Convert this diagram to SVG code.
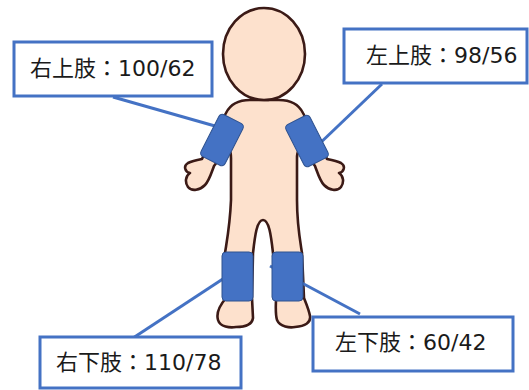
<svg xmlns="http://www.w3.org/2000/svg" width="529" height="390" viewBox="0 0 529 390">
  <style>
    .skin { fill: #FDE1CD; stroke: #3B1A16; stroke-width: 2.6; stroke-linejoin: round; }
    .cuff { fill: #4472C4; stroke: #2F528F; stroke-width: 1; }
    .link { stroke: #4472C4; stroke-width: 3; fill: none; }
    .box { fill: #FFFFFF; stroke: #4472C4; stroke-width: 3; }
    .label { font-family: "DejaVu Sans", "Noto Sans CJK JP", sans-serif; font-size: 22px; fill: #1A1A1A; }
  </style>

  <!-- figure -->
  <g id="figure">
    <path class="skin" d="M 250,100 C 238,100 230,105 226,113 L 206,150 L 202,159 C 197,160 192,161 188,163 C 183,166 185,172 190,173 C 185,176 185,183 188,187 C 192,192 200,190 205,185 C 209,181 211,174 214,166 L 226,150 Q 231,148 231,158 L 231,200 C 230,225 227,240 225,253 L 226,298 C 220,305 216,313 218,320 C 220,327 230,328 236,327 C 245,327 252,325 253,318 L 252,298 L 253,253 C 255,235 257,220 263,220 C 269,220 271,235 273,253 L 276,298 C 276,305 275,313 277,320 C 280,327 290,328 295,327 C 305,326 311,323 310,316 C 309,310 306,303 304,298 L 302,253 C 300,240 297,225 297,200 L 297,158 Q 297,148 303,150 L 315,166 C 318,174 320,181 324,185 C 329,190 337,192 341,187 C 344,183 344,176 339,173 C 344,172 346,166 341,163 C 337,161 332,160 327,159 L 323,150 L 303,113 C 299,105 291,100 279,100 Z"/>
    <ellipse class="skin" cx="264" cy="54" rx="41" ry="46"/>
  </g>

  <!-- connectors -->
  <g id="connectors">
    <line class="link" x1="113" y1="97" x2="222" y2="128"/>
    <line class="link" x1="382" y1="84" x2="315" y2="148"/>
    <line class="link" x1="133" y1="338" x2="235" y2="271"/>
    <line class="link" x1="360" y1="314" x2="270" y2="266"/>
  </g>

  <!-- cuffs -->
  <g id="cuff-right-upper">
    <rect class="cuff" x="-13.5" y="-23.5" width="27" height="47" rx="4" transform="translate(222 140) rotate(27)"/>
  </g>
  <g id="cuff-left-upper">
    <rect class="cuff" x="-13.5" y="-23.5" width="27" height="47" rx="4" transform="translate(307 141) rotate(-27)"/>
  </g>
  <g id="cuff-right-lower">
    <rect class="cuff" x="222" y="252" width="31" height="49" rx="4"/>
  </g>
  <g id="cuff-left-lower">
    <rect class="cuff" x="272" y="252" width="31" height="49" rx="4"/>
  </g>

  <!-- labels -->
  <g id="label-right-upper">
    <rect class="box" x="14" y="42" width="198" height="54"/>
    <text class="label" x="30" y="76">右上肢：100/62</text>
  </g>
  <g id="label-left-upper">
    <rect class="box" x="344" y="29" width="183" height="54"/>
    <text class="label" x="366" y="63">左上肢：98/56</text>
  </g>
  <g id="label-right-lower">
    <rect class="box" x="40" y="337" width="201" height="51"/>
    <text class="label" x="56" y="370">右下肢：110/78</text>
  </g>
  <g id="label-left-lower">
    <rect class="box" x="313" y="317" width="200" height="54"/>
    <text class="label" x="335" y="350">左下肢：60/42</text>
  </g>
</svg>
